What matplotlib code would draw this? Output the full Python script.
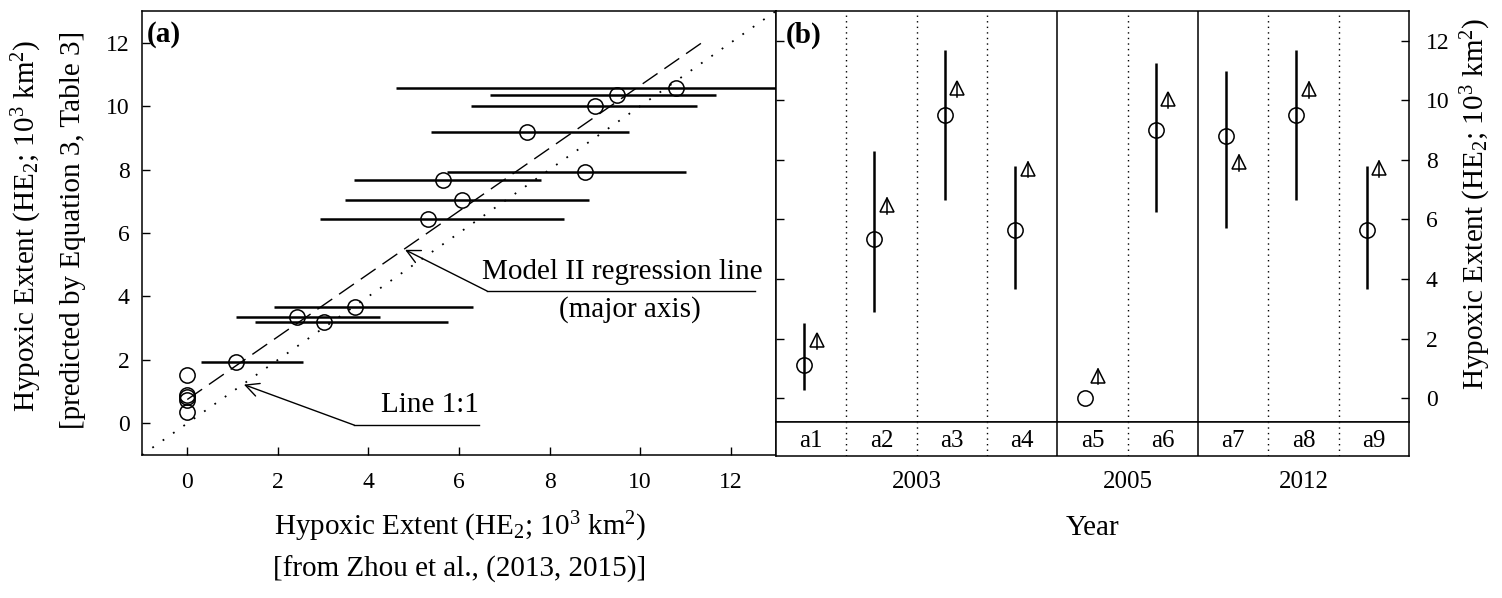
"""
Hypoxic extent: observed vs. predicted (a) and per-case estimates (b).
Writes out.png (about 1502 x 598 px).
"""

import matplotlib
matplotlib.use("Agg")
import matplotlib.pyplot as plt

plt.rcParams["font.family"] = ["Liberation Serif", "DejaVu Serif"]
plt.rcParams["mathtext.fontset"] = "custom"
plt.rcParams["mathtext.rm"] = "Liberation Serif"
plt.rcParams["mathtext.it"] = "Liberation Serif:italic"

# ---------------------------------------------------------------------------
# Data
# ---------------------------------------------------------------------------

# panel (a): observed (x, with range) vs. predicted (y)
obs_x = [0.0, 0.0, 0.0, 0.0, 0.0, 1.08, 2.43, 3.01, 3.71, 5.32, 6.06, 5.64,
         8.79, 7.51, 9.00, 9.49, 10.80]
pred_y = [1.53, 0.90, 0.82, 0.74, 0.36, 1.92, 3.34, 3.20, 3.68, 6.44, 7.04,
          7.68, 7.91, 9.17, 10.00, 10.35, 10.58]
obs_lo = [0.0, 0.0, 0.0, 0.0, 0.0, 0.31, 1.07, 1.50, 1.91, 2.92, 3.48, 3.69,
          5.74, 5.39, 6.26, 6.69, 4.60]
obs_hi = [0.0, 0.0, 0.0, 0.0, 0.0, 2.56, 4.25, 5.76, 6.32, 8.32, 8.86, 7.80,
          11.01, 9.76, 11.25, 11.68, 13.20]

# Model II (major axis) regression line
ma_intercept = 0.75
ma_slope = 0.99
ma_x_end = 11.35

# panel (b): nine cases grouped by year
cases = ["a1", "a2", "a3", "a4", "a5", "a6", "a7", "a8", "a9"]
years = ["2003", "2005", "2012"]
year_groups = [[0, 1, 2, 3], [4, 5], [6, 7, 8]]
est_mid = [1.10, 5.33, 9.50, 5.65, 0.00, 9.00, 8.79, 9.50, 5.64]
est_lo = [0.29, 2.88, 6.67, 3.65, None, 6.25, 5.72, 6.67, 3.67]
est_hi = [2.54, 8.30, 11.68, 7.80, None, 11.26, 11.00, 11.68, 7.80]
pred_b = [1.95, 6.50, 10.40, 7.71, 0.76, 10.03, 7.93, 10.39, 7.74]

W, H = 1502, 598
LABEL_FS = 21
TICK_FS = 17


def fx(px):
    return px / W


def fy(py):
    return 1 - py / H


fig = plt.figure(figsize=(W / 100, H / 100), dpi=100)

# ---------------------------------------------------------------------------
# Panel (a)
# ---------------------------------------------------------------------------
axa = fig.add_axes([fx(142), fy(455), fx(776) - fx(142), fy(11) - fy(455)])
axa.set_xlim(-1, 13)
axa.set_ylim(-1, 13)

axa.plot([-1, 13], [-1, 13], color="black", lw=1.3, ls=(0, (1, 6)))
axa.plot([0, ma_x_end], [ma_intercept, ma_intercept + ma_slope * ma_x_end],
         color="black", lw=1.0, ls=(0, (13, 6)))

for x, y, lo, hi in zip(obs_x, pred_y, obs_lo, obs_hi):
    if hi > lo:
        axa.plot([lo, hi], [y, y], color="black", lw=1.8,
                 solid_capstyle="butt")
axa.plot(obs_x, pred_y, ls="none", marker="o", ms=11, mfc="none",
         mec="black", mew=1.1)

axa.set_xticks(range(0, 13, 2))
axa.set_yticks(range(0, 13, 2))
axa.tick_params(direction="in", length=6, width=1, labelsize=TICK_FS)
axa.tick_params(axis="x", pad=12)
axa.tick_params(axis="y", pad=9)
for s in axa.spines.values():
    s.set_linewidth(1.1)

axa.text(0.008, 0.948, "(a)", transform=axa.transAxes, fontsize=21,
         fontweight="bold", ha="left", va="center")

arrow = dict(arrowstyle="->", color="black", lw=1.0, mutation_scale=24,
             shrinkA=0, shrinkB=0)
axa.annotate("", xy=(4.81, 5.47), xytext=(6.62, 4.17), arrowprops=arrow)
axa.plot([6.62, 12.54], [4.17, 4.17], color="black", lw=1.0)
axa.text(9.6, 4.78, "Model II regression line", fontsize=LABEL_FS,
         ha="center", va="center")
axa.text(9.78, 3.58, "(major axis)", fontsize=LABEL_FS, ha="center",
         va="center")

axa.annotate("", xy=(1.25, 1.22), xytext=(3.69, -0.06), arrowprops=arrow)
axa.plot([3.69, 6.44], [-0.06, -0.06], color="black", lw=1.0)
axa.text(6.44, 0.59, "Line 1:1", fontsize=LABEL_FS, ha="right", va="center")

he_label = r"Hypoxic Extent (HE$_2$; 10$^3$ km$^2$)"
fig.text(fx(27), fy(226), he_label, rotation=90, fontsize=LABEL_FS,
         ha="center", va="center")
fig.text(fx(73), fy(230), "[predicted by Equation 3, Table 3]", rotation=90,
         fontsize=LABEL_FS, ha="center", va="center")
fig.text(fx(460), fy(527), he_label, fontsize=LABEL_FS, ha="center",
         va="center")
fig.text(fx(460), fy(569), "[from Zhou et al., (2013, 2015)]",
         fontsize=LABEL_FS, ha="center", va="center")

# ---------------------------------------------------------------------------
# Panel (b)
# ---------------------------------------------------------------------------
axb = fig.add_axes([fx(776), fy(422), fx(1409) - fx(776), fy(11) - fy(422)])
axs = fig.add_axes([fx(776), fy(456), fx(1409) - fx(776), fy(422) - fy(456)])
n = len(cases)
for ax in (axb, axs):
    ax.set_xlim(-0.5, n - 0.5)
    for s in ax.spines.values():
        s.set_linewidth(1.1)
axb.set_ylim(-0.8, 13)
axs.set_ylim(0, 1)

# separators: solid between years, dotted within a year
group_ends = [g[-1] for g in year_groups[:-1]]
for i in range(n - 1):
    if i in group_ends:
        kw = dict(color="black", lw=1.1, ls="-")
    else:
        kw = dict(color="black", lw=1.0, ls=(0, (1, 3)))
    axb.axvline(i + 0.5, **kw)
    axs.axvline(i + 0.5, **kw)

xs = list(range(n))
x_est = [x - 0.1 for x in xs]
x_pred = [x + 0.08 for x in xs]
for x, lo, hi in zip(x_est, est_lo, est_hi):
    if lo is not None:
        axb.plot([x, x], [lo, hi], color="black", lw=1.8,
                 solid_capstyle="butt")
axb.plot(x_est, est_mid, ls="none", marker="o", ms=11, mfc="none",
         mec="black", mew=1.1)
for x, y in zip(x_pred, pred_b):
    axb.plot([x, x], [y - 0.3, y + 0.22], color="black", lw=1.1)
axb.plot(x_pred, pred_b, ls="none", marker="^", ms=10.5, mfc="none",
         mec="black", mew=1.1)

axb.set_xticks([])
axb.set_yticks(range(0, 13, 2))
axb.yaxis.set_ticks_position("both")
axb.tick_params(axis="y", direction="in", length=6, width=1,
                labelsize=TICK_FS, labelleft=False, labelright=True, pad=12)
axb.text(0.016, 0.942, "(b)", transform=axb.transAxes, fontsize=21,
         fontweight="bold", ha="left", va="center")

axs.set_xticks([])
axs.set_yticks([])
for x, c in zip(xs, cases):
    axs.text(x, 0.45, c, fontsize=18, ha="center", va="center")

# year labels below the case strip (data-x, axes-y)
for yr, g in zip(years, year_groups):
    xc = (g[0] + g[-1]) / 2
    axs.text(xc, -0.75, yr, fontsize=18, ha="center", va="center",
             transform=axs.get_xaxis_transform())
axs.text((n - 1) / 2, -2.12, "Year", fontsize=LABEL_FS, ha="center",
         va="center", transform=axs.get_xaxis_transform())

fig.text(fx(1476), fy(204), he_label, rotation=90, fontsize=LABEL_FS,
         ha="center", va="center")

fig.savefig("out.png", dpi=100)
plt.close(fig)
